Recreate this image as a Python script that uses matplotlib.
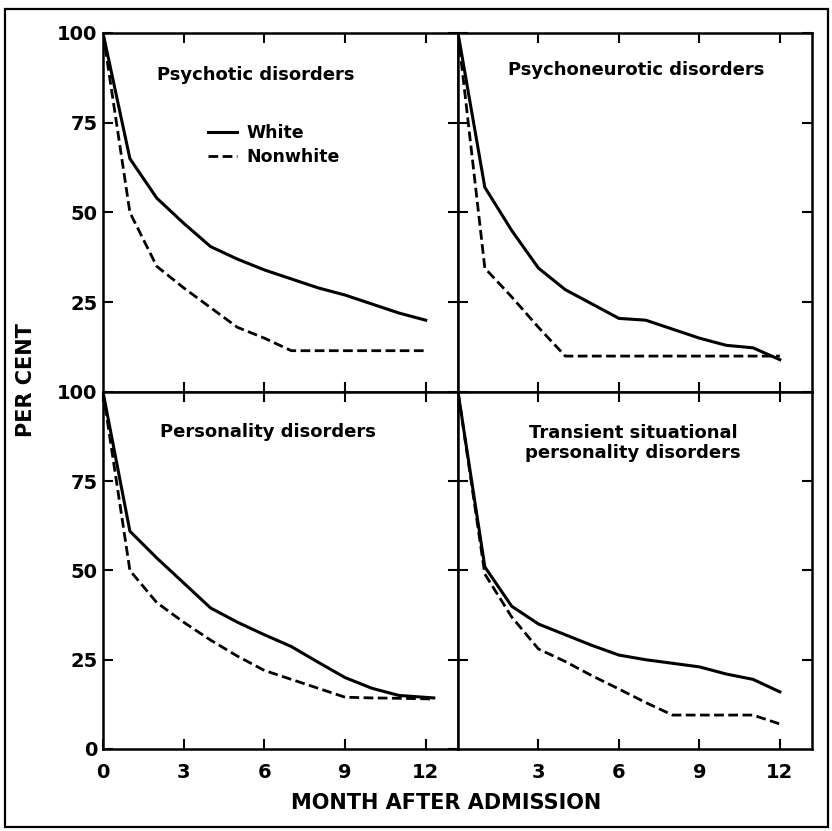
import matplotlib
matplotlib.use("Agg")
import matplotlib.pyplot as plt
from matplotlib.patches import Rectangle

# months after admission (monthly readings)
months = [0, 1, 2, 3, 4, 5, 6, 7, 8, 9, 10, 11, 12]
months_pers = [0, 1, 2, 3, 4, 5, 6, 7, 8, 9, 10, 11, 12.3]

# per cent still in hospital
psychotic_white = [100, 65, 54, 47, 40.5, 37, 34, 31.5, 29, 27, 24.5, 22, 20]
psychotic_nonwhite = [100, 50, 35, 29, 23.5, 18, 15, 11.5, 11.5, 11.5, 11.5, 11.5, 11.5]
neurotic_white = [100, 57, 45, 34.5, 28.5, 24.5, 20.5, 20, 17.5, 15, 13, 12.3, 9]
neurotic_nonwhite = [100, 34.5, 26.5, 18, 10, 10, 10, 10, 10, 10, 10, 10, 10]
personality_white = [100, 61, 53.5, 46.5, 39.5, 35.5, 32, 28.7, 24.3, 20, 17, 15, 14.3]
personality_nonwhite = [100, 50, 41, 35.5, 30.5, 26, 22, 19.5, 17, 14.5, 14.3, 14.2, 14]
transient_white = [100, 51, 40, 35, 32, 29, 26.3, 25, 24, 23, 21, 19.5, 16]
transient_nonwhite = [100, 49, 37, 28, 24.5, 20.5, 16.8, 13, 9.5, 9.5, 9.5, 9.5, 7]

titles = ["Psychotic disorders", "Psychoneurotic disorders",
          "Personality disorders", "Transient situational\npersonality disorders"]
xticks = [3, 6, 9, 12]
yticks = [25, 50, 75, 100]

panels = [
    (months, psychotic_white, psychotic_nonwhite),
    (months, neurotic_white, neurotic_nonwhite),
    (months_pers, personality_white, personality_nonwhite),
    (months, transient_white, transient_nonwhite),
]

fig = plt.figure(figsize=(8.32, 8.31), dpi=100)
plt.rcParams["font.family"] = "DejaVu Sans"

L, M, R = 0.1238, 0.5505, 0.976
T, H, B = 0.9603, 0.5283, 0.0987
rects = [(L, H, M - L, T - H), (M, H, R - M, T - H),
         (L, B, M - L, H - B), (M, B, R - M, H - B)]
# title centre (axes coords)
title_pos = [(0.43, 0.883), (0.503, 0.897), (0.465, 0.888), (0.495, 0.857)]

for i, (rect, (x, w, nw)) in enumerate(zip(rects, panels)):
    ax = fig.add_axes(rect)
    ax.plot(x, w, color="black", lw=2.2, solid_joinstyle="round", label="White")
    ax.plot(x, nw, color="black", lw=2.0, dashes=(3.5, 1.6), label="Nonwhite")
    ax.set_xlim(0, 13.2)
    ax.set_ylim(0, 100)
    for s in ax.spines.values():
        s.set_linewidth(1.8)
    ax.tick_params(direction="in", length=7, width=1.5, top=True, right=True,
                   labelsize=14, pad=4)
    ax.tick_params(axis="x", pad=10)
    ax.set_xticks(xticks)
    if i == 2:
        ax.set_yticks([0] + yticks)
        ax.set_xticks([0] + xticks)
    else:
        ax.set_yticks(yticks)
    if i in (0, 1):
        ax.set_xticklabels([])
    if i in (1, 3):
        ax.set_yticklabels([])
    for lab in ax.get_xticklabels() + ax.get_yticklabels():
        lab.set_fontweight("bold")
    tx, ty = title_pos[i]
    ax.text(tx, ty, titles[i], transform=ax.transAxes, ha="center", va="center",
            fontsize=13, fontweight="bold", linespacing=1.1)
    if i == 0:
        ax.legend(loc="upper left", bbox_to_anchor=(0.27, 0.77), frameon=False,
                  borderpad=0, handlelength=1.7, handletextpad=0.55,
                  labelspacing=0.35, prop={"size": 12.5, "weight": "bold"})

fig.text(0.031, 0.543, "PER CENT", rotation=90, ha="center", va="center",
         fontsize=15, fontweight="bold")
fig.text(0.536, 0.034, "MONTH AFTER ADMISSION", ha="center", va="center",
         fontsize=15, fontweight="bold")

# outer frame around whole figure
fig.patches.append(Rectangle((0.006, 0.005), 0.989, 0.984, transform=fig.transFigure,
                             fill=False, lw=1.6, edgecolor="black"))

fig.savefig("out.png", dpi=100)
